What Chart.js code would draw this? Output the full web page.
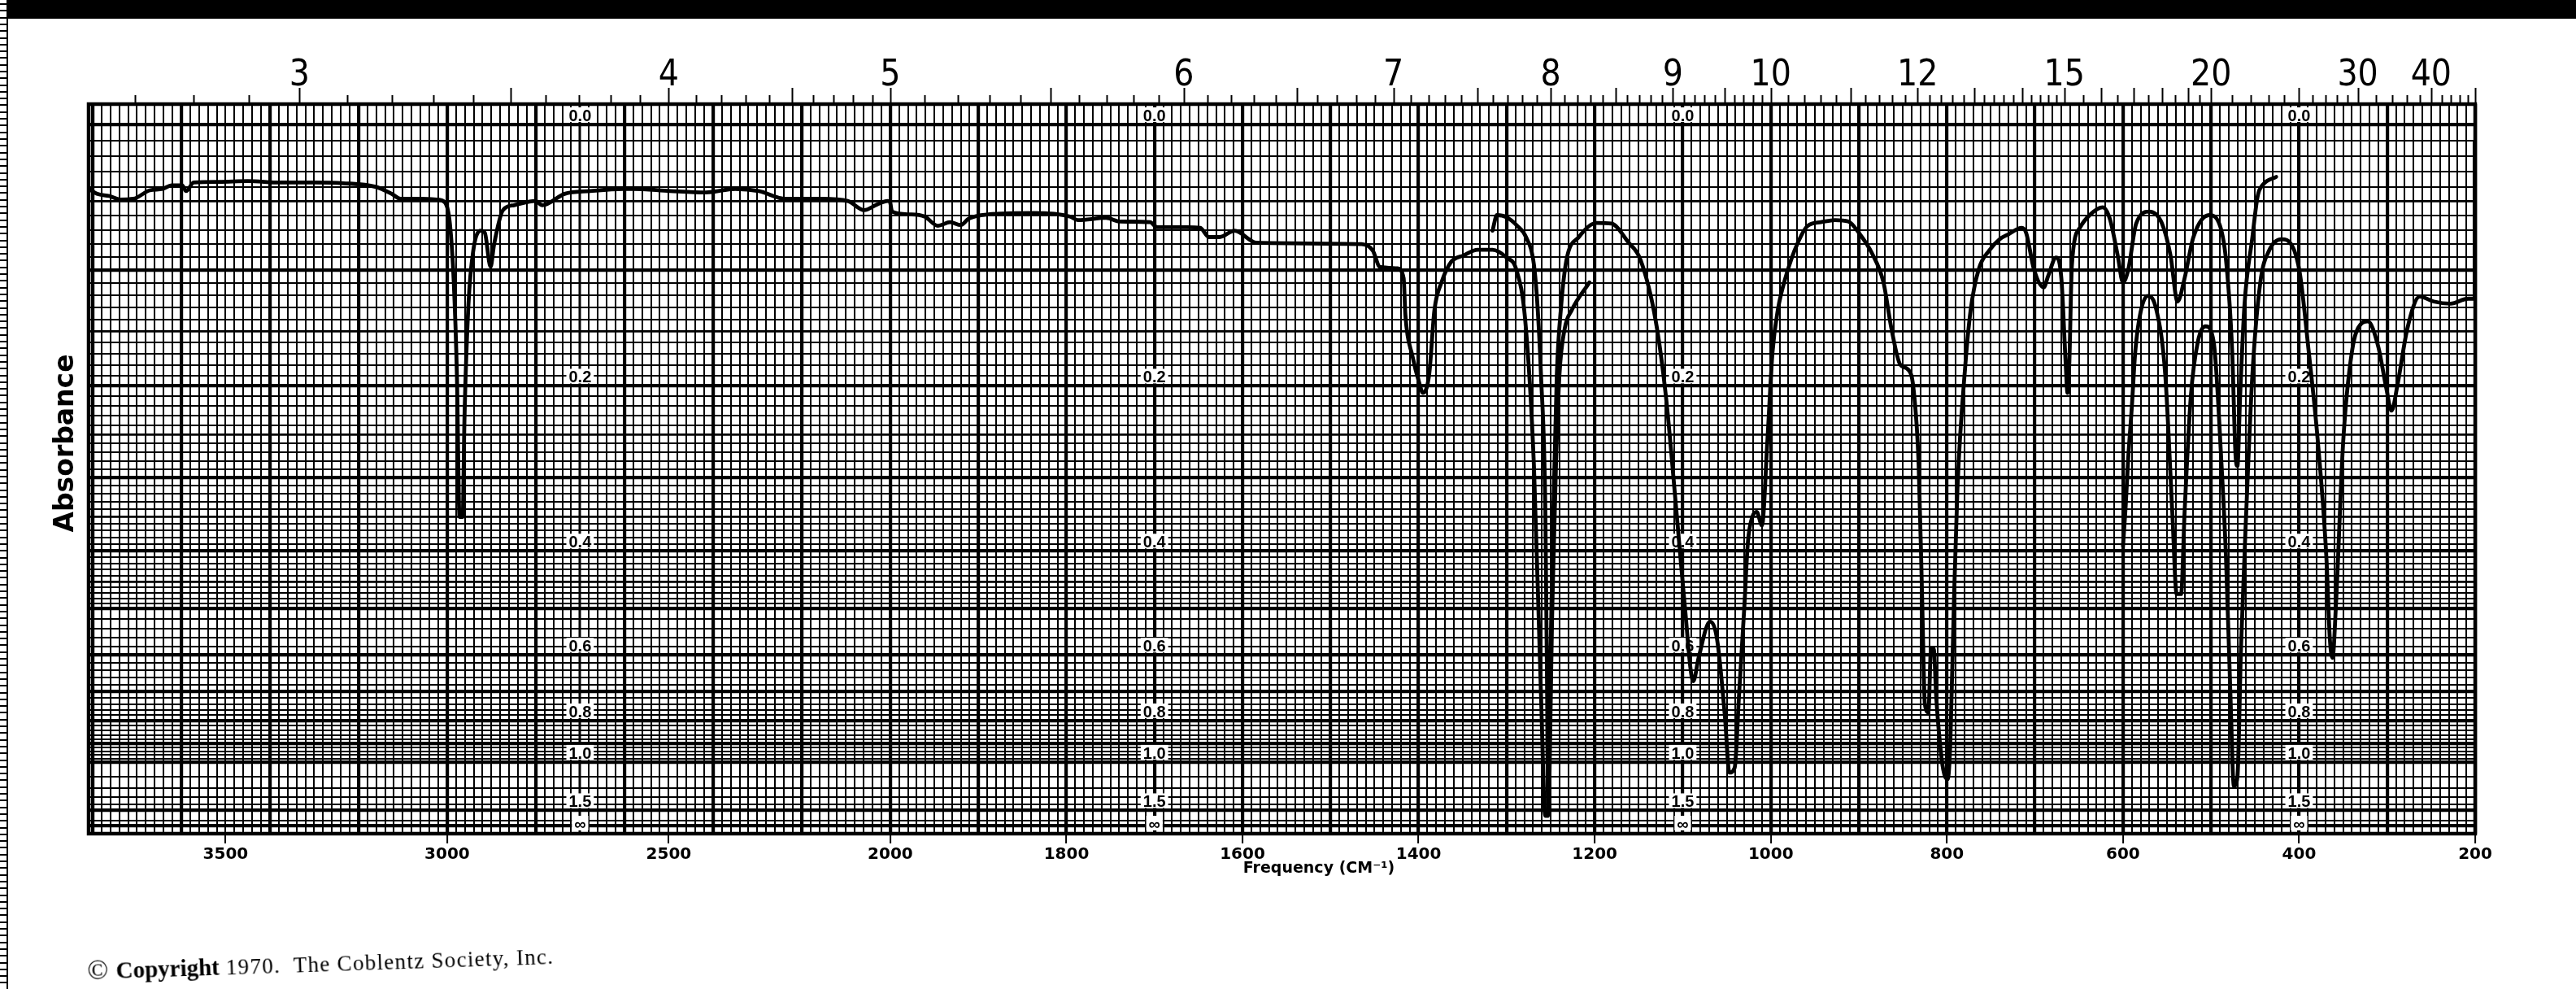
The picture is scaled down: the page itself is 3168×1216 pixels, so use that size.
<!DOCTYPE html>
<html>
<head>
<meta charset="utf-8">
<title>Infrared spectrum (absorbance)</title>
<script src="https://cdn.jsdelivr.net/npm/chart.js@4.4.0/dist/chart.umd.min.js"></script>
<style>
  html, body { margin: 0; padding: 0; background: #fff; }
  #wrap { position: relative; width: 3168px; height: 1216px; overflow: hidden; background: #fff; }
  #copyright {
    position: absolute; left: 108px; top: 1174px;
    font-family: 'Liberation Serif', 'DejaVu Serif', serif; font-size: 27px; letter-spacing: 1.3px; color: #000;
    white-space: nowrap; transform: rotate(-1.9deg); transform-origin: 0 100%;
  }
  #copyright .mark { font-size: 34px; }
  #copyright b { font-size: 29px; letter-spacing: 0; }
</style>
</head>
<body>
<div id="wrap">
  <canvas id="chartCanvas" width="3168" height="1216"></canvas>
  <div id="copyright"><span class="mark">©</span> <b>Copyright</b> 1970.&nbsp; The Coblentz Society, Inc.</div>
</div>
<script>
// Trace A: first pen run, 3800 down to ~1200 cm-1 (values in %T)
const traceA_cm = [3808, 3790, 3762, 3738, 3708, 3671, 3642, 3622, 3598, 3589, 3572, 3515, 3450, 3375, 3300,
  3235, 3162, 3125, 3105, 3060, 3022, 3005, 2994, 2985, 2978, 2972, 2965, 2961, 2952, 2941, 2924, 2915, 2902,
  2894, 2874, 2849, 2801, 2785, 2735, 2677, 2604, 2580, 2497, 2416, 2350, 2297, 2236, 2154, 2096, 2059, 2030,
  2006, 2001, 1998, 1978, 1961, 1946, 1932, 1920, 1911, 1889, 1837, 1796, 1787, 1755, 1739, 1705, 1697, 1663,
  1648, 1638, 1626, 1609, 1584, 1465, 1452, 1444, 1424, 1417, 1415, 1407, 1399, 1395, 1388, 1382, 1374, 1363,
  1349, 1333, 1316, 1300, 1289, 1279, 1269, 1261, 1256, 1253, 1248, 1244, 1240, 1234, 1226, 1206];
const traceA_T = [90.9, 90.2, 89.9, 89.4, 89.5, 90.7, 90.9, 91.4, 91.4, 90.6, 91.8, 91.9, 92.0, 91.8, 91.8,
  91.7, 91.2, 90.2, 89.5, 89.5, 89.4, 89.0, 86.1, 77.7, 64.7, 44.6, 44.6, 58.2, 74.5, 82.2, 85.0, 84.7, 79.9,
  83.1, 87.9, 88.6, 89.2, 88.6, 90.2, 90.6, 90.9, 90.9, 90.6, 90.4, 90.9, 90.6, 89.5, 89.5, 89.2, 87.9, 88.7,
  89.2, 89.1, 87.7, 87.3, 87.0, 85.7, 86.2, 85.8, 86.7, 87.3, 87.5, 87.0, 86.5, 86.8, 86.3, 86.2, 85.5, 85.5,
  85.4, 84.1, 84.1, 85.0, 83.3, 83.1, 82.2, 79.9, 79.7, 78.3, 73.1, 67.3, 63.4, 62.1, 64.7, 73.8, 77.7, 80.6,
  81.5, 82.3, 82.3, 81.2, 79.5, 72.5, 51.8, 19.6, 2.4, 2.4, 32.5, 51.8, 64.7, 71.2, 73.8, 77.7];

// Trace B: second pen run, 1315 down to ~426 cm-1
const traceB_cm = [1316, 1311, 1300, 1288, 1278, 1269, 1265, 1261, 1256, 1254, 1253, 1251, 1247, 1243, 1238,
  1232, 1218, 1198, 1181, 1162, 1148, 1131, 1119, 1109, 1104, 1098, 1088, 1082, 1069, 1061, 1052, 1047, 1041,
  1036, 1030, 1026, 1021, 1016, 1010, 1004, 998, 992, 982, 970, 958, 943, 927, 912, 900, 885, 872, 863, 853,
  844, 838, 832, 828, 825, 821, 818, 815, 812, 806, 802, 799, 796, 792, 788, 779, 773, 764, 752, 740, 730,
  715, 710, 701, 690, 685, 676, 670, 665, 663, 661, 658, 649, 637, 623, 615, 606, 600, 594, 585, 570, 556,
  546, 538, 530, 520, 502, 491, 483, 476, 472, 470, 467, 462, 453, 447, 441, 426];
const traceB_T = [85.0, 87.2, 86.9, 85.7, 84.1, 80.2, 74.5, 64.7, 45.3, 19.6, 2.8, 19.6, 45.3, 64.7, 74.5,
  80.9, 84.1, 86.1, 86.0, 83.4, 80.9, 72.5, 61.5, 48.0, 40.9, 32.5, 21.4, 24.7, 29.8, 27.3, 16.3, 8.5, 9.2,
  19.6, 32.0, 41.0, 44.6, 45.3, 43.4, 55.0, 67.9, 73.8, 78.9, 83.1, 85.7, 86.2, 86.5, 86.3, 84.7, 81.8, 77.7,
  71.2, 66.1, 65.4, 62.8, 51.8, 32.5, 18.2, 17.0, 26.0, 26.0, 19.0, 10.5, 7.9, 7.6, 13.1, 32.5, 48.6, 66.1,
  73.8, 79.5, 82.2, 83.8, 84.5, 85.4, 84.7, 79.5, 77.0, 78.6, 81.2, 78.3, 66.1, 62.1, 66.1, 80.2, 85.4, 87.3,
  88.3, 86.7, 81.5, 77.7, 79.5, 86.0, 87.7, 86.1, 81.5, 75.0, 78.3, 84.1, 87.2, 86.1, 80.9, 68.0, 53.0, 51.8,
  61.5, 74.5, 84.1, 89.9, 91.5, 92.6];

// Trace C: third pen run, 600 down to 200 cm-1
const traceC_cm = [600, 597, 594, 590, 586, 580, 572, 562, 552, 544, 539, 534, 530, 523, 515, 506, 497, 488,
  483, 478, 474, 470, 466, 460, 453, 444, 434, 420, 408, 399, 389, 379, 369, 365, 362, 358, 350, 340, 330,
  322, 310, 301, 295, 288, 277, 263, 247, 228, 208, 201];
const traceC_T = [40.5, 46.0, 53.0, 60.0, 68.0, 73.5, 75.8, 73.8, 64.7, 45.3, 33.7, 33.7, 45.3, 61.5, 69.3,
  71.5, 69.3, 51.8, 38.9, 19.6, 6.6, 7.9, 26.0, 45.3, 64.7, 77.7, 82.2, 83.8, 82.9, 78.9, 67.9, 55.7, 38.9,
  27.3, 24.7, 32.5, 55.0, 67.9, 71.8, 72.2, 68.6, 62.8, 59.6, 63.4, 71.2, 75.7, 75.0, 74.7, 75.4, 75.4];

// pen lift at the end of the run
const traceEnd_cm = [200.6, 200.6];
const traceEnd_T = [75.4, 97.5];

// axis text
const freqLabels = [3500, 3000, 2500, 2000, 1800, 1600, 1400, 1200, 1000, 800, 600, 400, 200];
const micronLabels = [3, 4, 5, 6, 7, 8, 9, 10, 12, 15, 20, 30, 40];
const absLabels = ['0.0', '0.2', '0.4', '0.6', '0.8', '1.0', '1.5', '∞'];
const absValues = [0, 0.2, 0.4, 0.6, 0.8, 1.0, 1.5, Infinity];
const absColumns = [2700, 1700, 1100, 400];

// chart paper: frequency scale halves at 2000 cm-1
const waveMax = 3809;
const waveBreak = 2000;
const waveMin = 200;
const highRate = 0.5033;

function waveUnits() {
  const uHigh = (waveMax - waveBreak) * highRate;
  return { uHigh: uHigh, total: uHigh + (waveBreak - waveMin) };
}

function waveFrac(v) {
  const w = waveUnits();
  const u = v >= waveBreak ? (waveMax - v) * highRate : w.uHigh + (waveBreak - v);
  return u / w.total;
}

function waveFromFrac(f) {
  const w = waveUnits();
  const u = f * w.total;
  return u <= w.uHigh ? waveMax - u / highRate : waveBreak - (u - w.uHigh);
}

class WavenumberScale extends Chart.LinearScale {
  getPixelForValue(value) {
    if (value === null || value === undefined) return NaN;
    return this.left + this.width * waveFrac(value);
  }
  getValueForPixel(pixel) {
    return waveFromFrac((pixel - this.left) / this.width);
  }
}
WavenumberScale.id = 'wavenumber';
WavenumberScale.defaults = Chart.LinearScale.defaults;
Chart.register(WavenumberScale);

function buildFreqTicks() {
  const ticks = [];
  for (let v = 3800; v >= 2000; v -= 20) {
    ticks.push({ value: v, weight: v % 200 === 0 ? 2 : 0 });
  }
  for (let v = 1990; v >= 200; v -= 10) {
    ticks.push({ value: v, weight: v % 100 === 0 ? 2 : 0 });
  }
  return ticks;
}

function buildAbsTicks() {
  const list = [];
  for (let i = 0; i <= 50; i++) list.push(i / 100);
  for (let i = 26; i <= 50; i++) list.push(i / 50);
  [1.1, 1.2, 1.3, 1.4, 1.5, 1.75, 2.0].forEach(a => list.push(a));
  return list.map(a => {
    const tenth = Math.abs(a * 10 - Math.round(a * 10)) < 1e-6;
    const half = Math.abs(a * 20 - Math.round(a * 20)) < 1e-6;
    let weight = 0;
    if ((tenth && a <= 1.0001) || a === 1.5 || a === 2.0) weight = 2;
    else if (half && a < 0.5) weight = 1;
    return { value: 100 * Math.pow(10, -a), weight: weight };
  });
}

function micronTicks() {
  const out = [];
  for (let k = 27; k <= 100; k++) out.push({ um: k / 10, long: k % 5 === 0 });
  for (let k = 51; k <= 75; k++) out.push({ um: k / 5, long: k % 5 === 0 });
  for (let k = 31; k <= 40; k++) out.push({ um: k / 2, long: k % 2 === 0 });
  for (let m = 21; m <= 30; m++) out.push({ um: m, long: m % 5 === 0 });
  for (let m = 32; m <= 50; m += 2) out.push({ um: m, long: m % 10 === 0 });
  return out;
}

const gridWidths = [2.0, 2.8, 4.2];
const narrowFont = '"Liberation Sans Narrow", "DejaVu Sans Condensed", "Liberation Sans", sans-serif';

const paperPlugin = {
  id: 'paper',
  beforeDatasetsDraw(chart) {
    const { ctx, chartArea: a } = chart;
    const x = chart.scales.x;
    const y = chart.scales.y;
    ctx.save();
    ctx.strokeStyle = '#000';
    ctx.lineWidth = 3;
    absColumns.forEach(c => {
      const px = Math.round(x.getPixelForValue(c));
      ctx.beginPath();
      ctx.moveTo(px, a.top);
      ctx.lineTo(px, a.bottom);
      ctx.stroke();
    });

    ctx.font = 'bold 20px "Liberation Sans", Arial, sans-serif';
    ctx.textAlign = 'center';
    ctx.textBaseline = 'alphabetic';
    absColumns.forEach(c => {
      const px = x.getPixelForValue(c);
      absLabels.forEach((lab, i) => {
        const py = y.getPixelForValue(100 * Math.pow(10, -absValues[i]));
        const w = ctx.measureText(lab).width + 6;
        ctx.fillStyle = '#fff';
        ctx.fillRect(px - w / 2, py - 21, w, 18);
        ctx.fillStyle = '#000';
        ctx.fillText(lab, px, py - 4);
      });
    });

    ctx.lineWidth = 4.5;
    ctx.strokeRect(a.left, a.top, a.right - a.left, a.bottom - a.top);
    ctx.restore();
  },
  afterDraw(chart) {
    const { ctx, chartArea: a } = chart;
    const x = chart.scales.x;
    ctx.save();
    ctx.fillStyle = '#000';
    // scanner band and edge ruler
    ctx.fillRect(9, 0, chart.width - 9, 23);
    ctx.fillRect(8, 0, 2, chart.height);
    for (let yy = 4; yy < chart.height; yy += 8.3) ctx.fillRect(0, Math.round(yy), 9, 2);

    // wavelength scale along the top
    ctx.strokeStyle = '#000';
    ctx.lineWidth = 2;
    micronTicks().forEach(t => {
      const px = Math.round(x.getPixelForValue(10000 / t.um)) + 0.5;
      ctx.beginPath();
      ctx.moveTo(px, a.top);
      ctx.lineTo(px, a.top - (t.long ? 20 : 11));
      ctx.stroke();
    });
    ctx.font = '44px ' + narrowFont;
    ctx.textAlign = 'center';
    ctx.textBaseline = 'alphabetic';
    micronLabels.forEach(m => ctx.fillText(String(m), x.getPixelForValue(10000 / m), 105));

    ctx.font = 'bold 19px "DejaVu Sans", sans-serif';
    ctx.fillText('Frequency (CM⁻¹)', 1622, 1073);

    ctx.translate(81, 545);
    ctx.rotate(-Math.PI / 2);
    ctx.font = 'bold 33px "DejaVu Sans", sans-serif';
    ctx.textBaseline = 'middle';
    ctx.fillText('Absorbance', 0, 0);
    ctx.restore();
  }
};

function makeTrace(cm, t, smooth) {
  return {
    data: cm.map((c, i) => ({ x: c, y: t[i] })),
    borderColor: '#000',
    borderWidth: 4.8,
    pointRadius: 0,
    fill: false,
    borderJoinStyle: 'round',
    borderCapStyle: 'round',
    cubicInterpolationMode: smooth ? 'monotone' : 'default',
    tension: 0
  };
}

const ctx = document.getElementById('chartCanvas').getContext('2d');

const chart = new Chart(ctx, {
  type: 'line',
  data: {
    datasets: [
      makeTrace(traceA_cm, traceA_T, true),
      makeTrace(traceB_cm, traceB_T, true),
      makeTrace(traceC_cm, traceC_T, true),
      makeTrace(traceEnd_cm, traceEnd_T, false)
    ]
  },
  options: {
    responsive: false,
    animation: false,
    devicePixelRatio: 1,
    events: [],
    layout: { padding: { left: 109, right: 124, top: 128, bottom: 0 } },
    plugins: {
      legend: { display: false },
      tooltip: { enabled: false }
    },
    scales: {
      x: {
        type: 'wavenumber',
        min: waveMin,
        max: waveMax,
        afterBuildTicks: s => { s.ticks = buildFreqTicks(); },
        afterFit: s => { s.height = 191; },
        border: { display: false },
        grid: {
          color: '#000',
          lineWidth: c => (c.tick ? gridWidths[c.tick.weight] : 2),
          drawTicks: true,
          tickLength: 12,
          tickWidth: 2,
          tickColor: c => (c.tick && freqLabels.includes(c.tick.value) ? '#000' : 'rgba(0,0,0,0)')
        },
        ticks: {
          autoSkip: false,
          maxRotation: 0,
          minRotation: 0,
          padding: 2,
          color: '#000',
          font: { family: '"DejaVu Sans", sans-serif', size: 20, weight: 'bold' },
          callback: v => (freqLabels.includes(v) ? String(v) : '')
        }
      },
      y: {
        type: 'linear',
        min: -0.115,
        max: 102.87,
        afterBuildTicks: s => { s.ticks = buildAbsTicks(); },
        afterFit: s => { s.width = 0; },
        border: { display: false },
        grid: {
          color: '#000',
          lineWidth: c => (c.tick ? gridWidths[c.tick.weight] : 2),
          drawTicks: false
        },
        ticks: { display: false }
      }
    }
  },
  plugins: [paperPlugin]
});
</script>
</body>
</html>
